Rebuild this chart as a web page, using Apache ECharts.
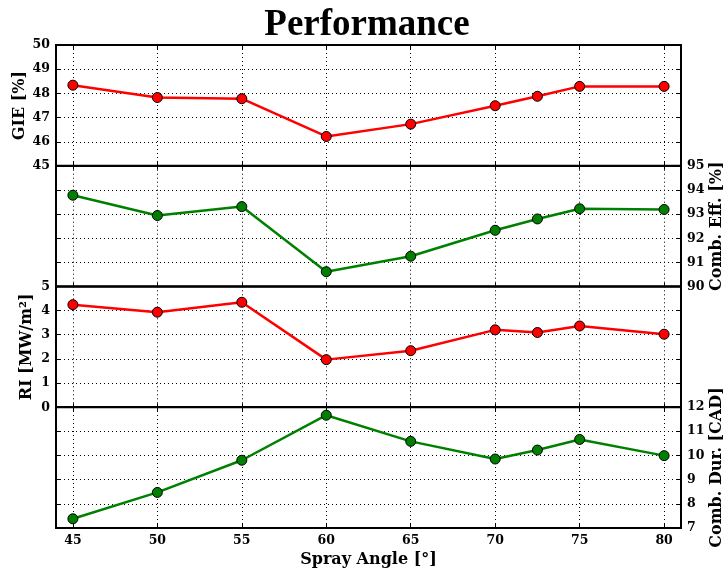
<!DOCTYPE html>
<html>
<head>
<meta charset="utf-8">
<script src="https://cdn.jsdelivr.net/npm/echarts@6/dist/echarts.min.js"></script>
<style>html,body{margin:0;padding:0;background:#fff}#c{width:727px;height:575px}</style>
</head>
<body>
<div id="c"></div>
<script>
const angles = [45, 50, 55, 60, 65, 70, 72.5, 75, 80];
const gie = [48.34, 47.83, 47.78, 46.22, 46.73, 47.49, 47.88, 48.29, 48.29];
const combEff = [93.78, 92.94, 93.31, 90.62, 91.26, 92.33, 92.80, 93.22, 93.19];
const ri = [4.24, 3.93, 4.34, 1.97, 2.34, 3.20, 3.09, 3.36, 3.02];
const combDur = [7.38, 8.47, 9.80, 11.66, 10.58, 9.85, 10.22, 10.66, 9.99];

const panelNames = ['GIE [%]', 'Comb. Eff. [%]', 'RI [MW/m²]', 'Comb. Dur. [CAD]'];
const panelRanges = [[45, 50], [90, 95], [0, 5], [7, 12]];
const panelSides = ['left', 'right', 'left', 'right'];
const panelGaps = [28, 28, 21, 28];
const panelValues = [gie, combEff, ri, combDur];
const panelColors = ['#ff0000', '#008000', '#ff0000', '#008000'];
const xTitle = 'Spray Angle [°]';
const titleText = 'Performance';

const font = 'DejaVu Serif';
const tops = [45, 165.7, 286.3, 407];
const H = 121;

const grids = [], xAxes = [], yAxes = [], series = [];
const dotted = { show: true, lineStyle: { color: '#000', width: 1, type: [1, 3] } };
const tick = { show: true, inside: true, length: 4, lineStyle: { color: '#000', width: 1 } };

for (let p = 0; p < 4; p++) {
  grids.push({ left: 56, right: 46, top: tops[p], height: H, show: true, borderColor: '#000', borderWidth: 2,
    backgroundColor: 'transparent', containLabel: false, outerBoundsMode: 'none' });
  const isLast = p === 3;
  xAxes.push({
    type: 'value', gridIndex: p, position: 'bottom', min: 44, max: 81, splitNumber: 7,
    axisLine: { show: false }, axisTick: tick, splitLine: dotted,
    axisLabel: {
      show: isLast, showMinLabel: false, showMaxLabel: false, margin: 6,
      color: '#000', fontFamily: font, fontWeight: 'bold', fontSize: 12.5,
      formatter: v => (v % 5 === 0 ? String(v) : '')
    },
    name: isLast ? xTitle : '', nameLocation: 'middle', nameGap: 24, nameMoveOverlap: false,
    nameTextStyle: { color: '#000', fontFamily: font, fontWeight: 'bold', fontSize: 16 }
  });
  xAxes.push({
    type: 'value', gridIndex: p, position: 'top', min: 44, max: 81, splitNumber: 7,
    axisLine: { show: false }, axisTick: tick, splitLine: { show: false }, axisLabel: { show: false }
  });
  const side = panelSides[p];
  const other = side === 'left' ? 'right' : 'left';
  yAxes.push({
    type: 'value', gridIndex: p, position: side, min: panelRanges[p][0], max: panelRanges[p][1], interval: 1,
    axisLine: { show: false }, axisTick: tick, splitLine: dotted,
    axisLabel: { show: true, margin: 6, color: '#000', fontFamily: font, fontWeight: 'bold', fontSize: 12.5 },
    name: panelNames[p], nameLocation: 'middle', nameRotate: 90, nameGap: panelGaps[p], nameMoveOverlap: false,
    nameTextStyle: { color: '#000', fontFamily: font, fontWeight: 'bold', fontSize: 16 }
  });
  yAxes.push({
    type: 'value', gridIndex: p, position: other, min: panelRanges[p][0], max: panelRanges[p][1], interval: 1,
    axisLine: { show: false }, axisTick: tick, splitLine: { show: false }, axisLabel: { show: false }
  });
  series.push({
    type: 'line', xAxisIndex: 2 * p, yAxisIndex: 2 * p,
    data: angles.map((a, i) => [a, panelValues[p][i]]),
    symbol: 'circle', symbolSize: 10,
    lineStyle: { color: panelColors[p], width: 2.5 },
    itemStyle: { color: panelColors[p], borderColor: '#000', borderWidth: 1 },
    z: 5, animation: false
  });
}

const chart = echarts.init(document.getElementById('c'), null, { renderer: 'canvas' });
chart.setOption({
  animation: false,
  backgroundColor: '#fff',
  title: {
    text: titleText, left: 362, textAlign: 'center', top: 2,
    textStyle: { color: '#000', fontFamily: 'Liberation Serif', fontWeight: 'bold', fontSize: 37 }
  },
  grid: grids, xAxis: xAxes, yAxis: yAxes, series: series
});
</script>
</body>
</html>
